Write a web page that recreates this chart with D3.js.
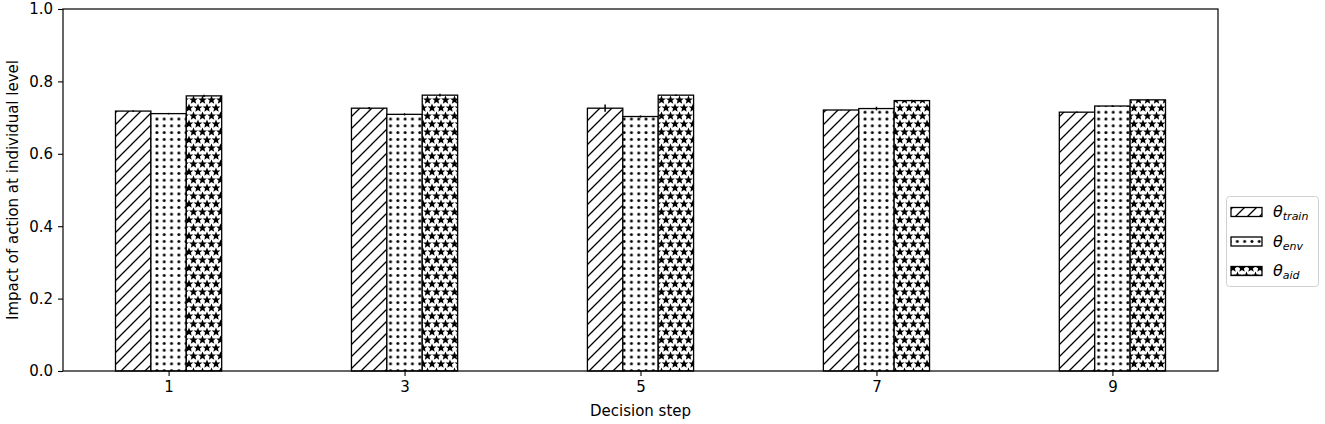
<!DOCTYPE html>
<html><head><meta charset="utf-8">
<script src="https://cdn.jsdelivr.net/npm/d3@7"></script>
<style>body{margin:0;background:#fff} svg{display:block} text{font-family:"DejaVu Sans",sans-serif;fill:#000}</style>
</head><body><svg id="c" width="1325" height="424"></svg>
<script>
const steps = [1, 3, 5, 7, 9];
const seriesKeys = ["train", "env", "aid"];
const trainVals = [0.718, 0.726, 0.726, 0.721, 0.715];
const envVals   = [0.711, 0.709, 0.703, 0.725, 0.732];
const aidVals   = [0.760, 0.762, 0.762, 0.747, 0.749];
const trainErr  = [0.002, 0.003, 0.010, 0.001, 0.002];
const envErr    = [0.002, 0.003, 0.003, 0.005, 0.002];
const aidErr    = [0.003, 0.004, 0.002, 0.002, 0.002];
const yTicks = [0, 0.2, 0.4, 0.6, 0.8, 1.0];
const xTicks = [1, 3, 5, 7, 9];

const svg = d3.select("#c");
const L = 63, R = 1218, T = 9, B = 371;
const x = d3.scaleLinear().domain([0.105, 9.895]).range([L, R]);
const y = d3.scaleLinear().domain([0, 1]).range([B, T]);
const barW = 0.3;
const FS = "15px";

const defs = svg.append("defs");
// diagonal hatch
const p1 = defs.append("pattern").attr("id", "hTrain").attr("patternUnits", "userSpaceOnUse")
  .attr("width", 12).attr("height", 12);
p1.append("rect").attr("width", 12).attr("height", 12).attr("fill", "#fff");
p1.append("path").attr("d", "M-3,15 L15,-3 M-3,3 L3,-3 M9,15 L15,9").attr("stroke", "#000").attr("stroke-width", 1.3);
// dots
const p2 = defs.append("pattern").attr("id", "hEnv").attr("patternUnits", "userSpaceOnUse")
  .attr("width", 7.3).attr("height", 6.8);
p2.append("rect").attr("width", 7.3).attr("height", 6.8).attr("fill", "#fff");
p2.append("circle").attr("cx", 3.65).attr("cy", 3.4).attr("r", 1.5).attr("fill", "#000");
// stars
function starPath(cx, cy, ro, ri) {
  let d = "";
  for (let i = 0; i < 10; i++) {
    const r = i % 2 === 0 ? ro : ri;
    const a = -Math.PI / 2 + i * Math.PI / 5;
    d += (i === 0 ? "M" : "L") + (cx + r * Math.cos(a)).toFixed(2) + "," + (cy + r * Math.sin(a)).toFixed(2);
  }
  return d + "Z";
}
const sw = 9, sh = 16;
const p3 = defs.append("pattern").attr("id", "hAid").attr("patternUnits", "userSpaceOnUse")
  .attr("width", sw).attr("height", sh);
p3.append("rect").attr("width", sw).attr("height", sh).attr("fill", "#fff");
p3.append("path").attr("d",
    starPath(sw / 2, 4, 4.6, 2.0) + starPath(0, 12, 4.6, 2.0) + starPath(sw, 12, 4.6, 2.0) +
    starPath(sw / 2, 20, 4.6, 2.0) + starPath(0, -4, 4.6, 2.0) + starPath(sw, -4, 4.6, 2.0))
  .attr("fill", "#000");

const fills = { train: "url(#hTrain)", env: "url(#hEnv)", aid: "url(#hAid)" };
const offsets = { train: -0.3, env: 0, aid: 0.3 };
const valsBy = { train: trainVals, env: envVals, aid: aidVals };
const errBy = { train: trainErr, env: envErr, aid: aidErr };

svg.append("rect").attr("x", L).attr("y", T).attr("width", R - L).attr("height", B - T).attr("fill", "#fff");

seriesKeys.forEach(k => {
  const data = steps.map((s, i) => ({ s, v: valsBy[k][i], e: errBy[k][i] }));
  svg.append("g").selectAll("rect").data(data).join("rect")
    .attr("x", d => x(d.s + offsets[k] - barW / 2))
    .attr("width", d => x(d.s + offsets[k] + barW / 2) - x(d.s + offsets[k] - barW / 2))
    .attr("y", d => y(d.v))
    .attr("height", d => y(0) - y(d.v))
    .attr("fill", fills[k]).attr("stroke", "#000").attr("stroke-width", 1.3);
  svg.append("g").selectAll("line").data(data).join("line")
    .attr("x1", d => x(d.s + offsets[k])).attr("x2", d => x(d.s + offsets[k]))
    .attr("y1", d => y(d.v - d.e)).attr("y2", d => y(d.v + d.e))
    .attr("stroke", "#000").attr("stroke-width", 1.5);
});

svg.append("rect").attr("x", L).attr("y", T).attr("width", R - L).attr("height", B - T)
  .attr("fill", "none").attr("stroke", "#000").attr("stroke-width", 1.2);

const xAxis = svg.append("g").attr("transform", `translate(0,${B})`)
  .call(d3.axisBottom(x).tickValues(xTicks).tickFormat(d3.format("d")).tickSize(5).tickPadding(5));
const yAxis = svg.append("g").attr("transform", `translate(${L},0)`)
  .call(d3.axisLeft(y).tickValues(yTicks).tickFormat(d3.format(".1f")).tickSize(5).tickPadding(5));
[xAxis, yAxis].forEach(a => {
  a.select(".domain").remove();
  a.selectAll("line").attr("stroke", "#000").attr("stroke-width", 1.1);
  a.selectAll("text").style("font-family", '"DejaVu Sans",sans-serif').style("font-size", FS).attr("fill", "#000");
});

svg.append("text").attr("x", (L + R) / 2).attr("y", 416).attr("text-anchor", "middle")
  .style("font-size", FS).text("Decision step");
svg.append("text").attr("transform", `translate(18,${(T + B) / 2}) rotate(-90)`).attr("text-anchor", "middle")
  .style("font-size", FS).text("Impact of action at individual level");

// legend
const lg = svg.append("g");
lg.append("rect").attr("x", 1226.5).attr("y", 196.5).attr("width", 92).attr("height", 90).attr("rx", 3)
  .attr("fill", "#fff").attr("stroke", "#d0d0d0").attr("stroke-width", 1);
const legendSubs = ["train", "env", "aid"];
seriesKeys.forEach((k, i) => {
  const cy = 212 + i * 29.5;
  lg.append("rect").attr("x", 1231).attr("y", cy - 4.5).attr("width", 31).attr("height", 9)
    .attr("fill", fills[k]).attr("stroke", "#000").attr("stroke-width", 1.3);
  const t = lg.append("text").attr("x", 1273).attr("y", cy + 5).style("font-size", "16px");
  t.append("tspan").style("font-style", "italic").text("θ");
  t.append("tspan").attr("dy", 3).style("font-style", "italic").style("font-size", "11px").text(legendSubs[i]);
});
</script></body></html>
